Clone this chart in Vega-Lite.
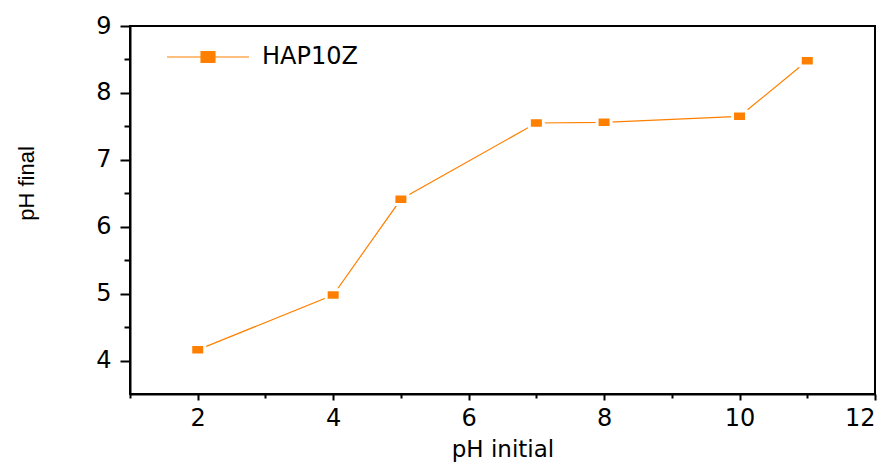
{
  "$schema": "https://vega.github.io/schema/vega-lite/v6.json",
  "width": 745,
  "height": 368,
  "autosize": "none",
  "padding": {"left": 130, "top": 26, "right": 18, "bottom": 70},
  "background": "white",
  "config": {
    "view": {"stroke": "black", "strokeWidth": 2},
    "axis": {
      "domainColor": "black",
      "domainWidth": 2,
      "tickColor": "black",
      "tickWidth": 2,
      "grid": false,
      "labelColor": "black",
      "labelFont": "DejaVu Sans",
      "labelFontSize": 24,
      "titleColor": "black",
      "titleFontWeight": "normal"
    }
  },
  "data": {
    "values": [
      {"ph_initial": 2, "ph_final": 4.16, "series": "HAP10Z"},
      {"ph_initial": 4, "ph_final": 4.98, "series": "HAP10Z"},
      {"ph_initial": 5, "ph_final": 6.41, "series": "HAP10Z"},
      {"ph_initial": 7, "ph_final": 7.55, "series": "HAP10Z"},
      {"ph_initial": 8, "ph_final": 7.56, "series": "HAP10Z"},
      {"ph_initial": 10, "ph_final": 7.65, "series": "HAP10Z"},
      {"ph_initial": 11, "ph_final": 8.48, "series": "HAP10Z"}
    ]
  },
  "encoding": {
    "x": {
      "field": "ph_initial",
      "type": "quantitative",
      "scale": {"domain": [1, 12], "nice": false, "zero": false},
      "axis": {
        "title": "pH initial",
        "titleFont": "DejaVu Sans",
        "titleFontSize": 23,
        "titlePadding": 8,
        "values": [1, 2, 3, 4, 5, 6, 7, 8, 9, 10, 11, 12],
        "labelExpr": "datum.value % 2 == 0 ? format(datum.value, 'd') : ''",
        "tickSize": {"condition": {"test": "datum.value % 2 == 0", "value": 6}, "value": 4},
        "labelPadding": 6
      }
    },
    "y": {
      "field": "ph_final",
      "type": "quantitative",
      "scale": {"domain": [3.5, 9], "nice": false, "zero": false},
      "axis": {
        "title": "pH final",
        "titleFont": "Liberation Sans",
        "titleFontSize": 22,
        "titleX": -104,
        "titleY": 157,
        "titleAlign": "center",
        "titleBaseline": "middle",
        "values": [4, 4.5, 5, 5.5, 6, 6.5, 7, 7.5, 8, 8.5, 9],
        "labelExpr": "datum.value % 1 == 0 ? format(datum.value, 'd') : ''",
        "tickSize": {"condition": {"test": "datum.value % 1 == 0", "value": 10}, "value": 6},
        "labelPadding": 9
      }
    },
    "color": {
      "field": "series",
      "type": "nominal",
      "scale": {"range": ["#FF8000"]},
      "legend": {
        "title": null,
        "orient": "none",
        "legendX": 36,
        "legendY": -11,
        "padding": 0,
        "symbolType": "M-1,0H1M-0.17,-0.134H0.17V0.134H-0.17Z",
        "symbolSize": 6724,
        "symbolStrokeColor": "#FF8000",
        "symbolFillColor": "#FF8000",
        "symbolStrokeWidth": 1.2,
        "labelFont": "DejaVu Sans",
        "labelFontSize": 24,
        "labelColor": "black",
        "labelOffset": 12
      }
    }
  },
  "layer": [
    {"mark": {"type": "line", "strokeWidth": 1.2}},
    {
      "mark": {
        "type": "point",
        "shape": "M-1,-0.75H1V0.75H-1Z",
        "size": 196,
        "filled": true,
        "fillOpacity": 1,
        "opacity": 1,
        "stroke": "white",
        "strokeWidth": 3
      }
    }
  ]
}
